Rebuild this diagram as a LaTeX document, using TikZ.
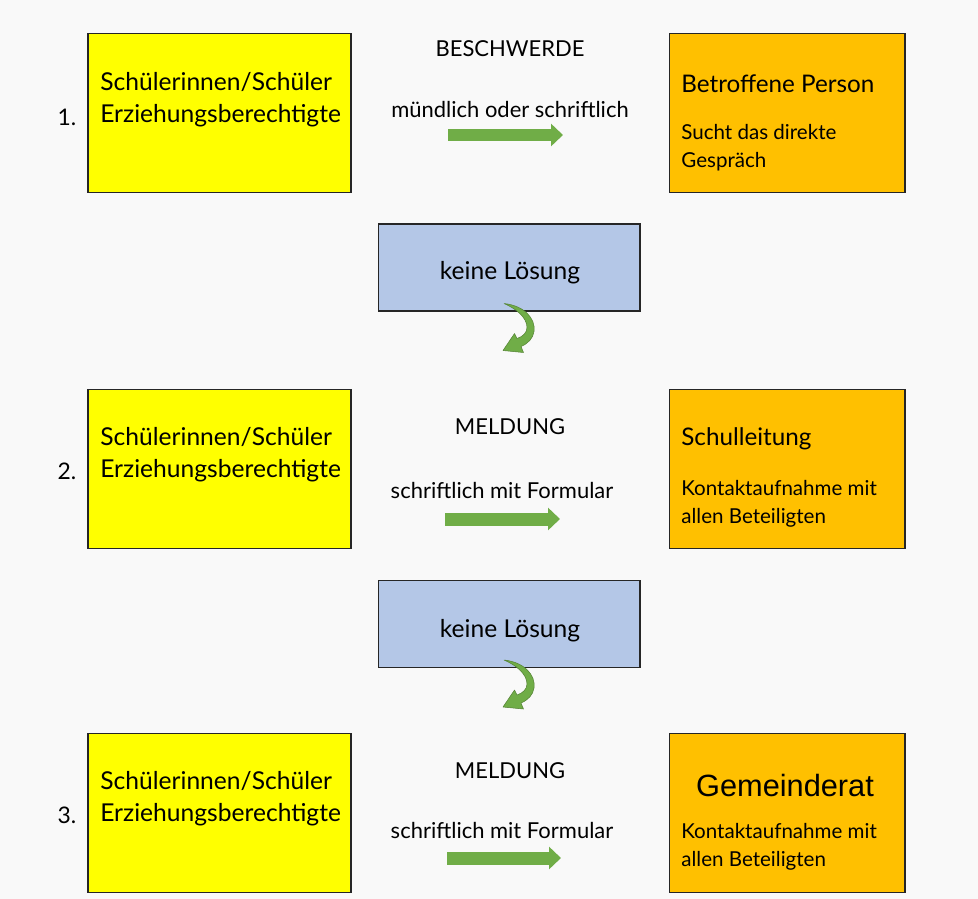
\documentclass[tikz,border=0pt]{standalone}
\usepackage{fontspec}
\setmainfont{Lato}
\newfontfamily\arialfont{Liberation Sans}
\usetikzlibrary{arrows.meta,positioning}
\definecolor{boxyellow}{RGB}{255,255,0}
\definecolor{boxorange}{RGB}{255,192,0}
\definecolor{boxblue}{RGB}{180,199,231}
\definecolor{arrowgreen}{RGB}{112,173,71}
\definecolor{paper}{RGB}{249,249,249}
\tikzset{>=stealth}

\begin{document}
\begin{tikzpicture}[x=0.02cm,y=-0.02cm,
  box/.style={draw=black!85,line width=0.6pt,minimum width=5.26cm,minimum height=3.18cm,inner sep=0pt},
  pupil/.style={box,fill=boxyellow},
  office/.style={box,fill=boxorange,minimum width=4.72cm},
  fail/.style={draw=black!85,line width=0.6pt,fill=boxblue,minimum width=5.24cm,minimum height=1.74cm},
  failtext/.style={inner sep=0pt,font=\fontsize{14}{16}\selectfont},
  flow/.style={arrowgreen,line width=0.26cm,-{Triangle[length=0.24cm,width=0.44cm]}},
  turn/.style={fill=arrowgreen,draw=arrowgreen!75!black,line width=0.3pt,line join=round},
  who/.style={anchor=west,align=left,inner sep=0pt,font=\fontsize{14}{18.2}\selectfont},
  head/.style={anchor=west,inner sep=0pt,font=\fontsize{13.8}{18}\selectfont},
  note/.style={anchor=west,align=left,inner sep=0pt,font=\fontsize{11.7}{16}\selectfont},
  kind/.style={inner sep=0pt,font=\fontsize{12.5}{14}\selectfont},
  nr/.style={inner sep=0pt,font=\fontsize{13}{15}\selectfont}
]
\fill[paper] (0,0) rectangle (978,899);

% rows
\node[pupil] (p1) at (219.5,113) {};
\node[pupil] (p2) at (219.5,469) {};
\node[pupil] (p3) at (219.5,813) {};
\node[office] (o1) at (787,113) {};
\node[office] (o2) at (787,469) {};
\node[office] (o3) at (787,813) {};

\node[nr] (n1) at (67,117) {1.};
\node[nr] (n2) at (67,471) {2.};
\node[nr] (n3) at (67,815) {3.};

\node[who] (w1) at (100,100) {Schülerinnen/Schüler\\Erziehungsberechtigte};
\node[who] (w2) at (100,455) {Schülerinnen/Schüler\\Erziehungsberechtigte};
\node[who] (w3) at (100,799) {Schülerinnen/Schüler\\Erziehungsberechtigte};

\node[head] (h1) at (681,84) {Betroffene Person};
\node[note] (s1) at (681,148) {Sucht das direkte\\Gespräch};
\node[head] (h2) at (681,439) {Schulleitung};
\node[note] (s2) at (681,504) {Kontaktaufnahme mit\\allen Beteiligten};
\node[inner sep=0pt,font=\arialfont\fontsize{17.5}{20}\selectfont] (h3) at (785,786) {Gemeinderat};
\node[note] (s3) at (681,847) {Kontaktaufnahme mit\\allen Beteiligten};

% middle column
\node[kind] (k1) at (510,49) {BESCHWERDE};
\node[kind] (m1) at (510,109) {mündlich oder schriftlich};
\node[kind] (k2) at (510,427) {MELDUNG};
\node[kind] (m2) at (502,490) {schriftlich mit Formular};
\node[kind] (k3) at (510,771) {MELDUNG};
\node[kind] (m3) at (502,830) {schriftlich mit Formular};

\coordinate (a1) at (448,135); \coordinate (b1) at (563,135);
\coordinate (a2) at (445,519); \coordinate (b2) at (560,519);
\coordinate (a3) at (447,858); \coordinate (b3) at (561,858);
\draw[flow] (a1) -- (b1);
\draw[flow] (a2) -- (b2);
\draw[flow] (a3) -- (b3);

\node[fail] (f1) at (509,267.5) {};
\node[failtext] (l1) at (510,273) {keine Lösung};
\node[fail] (f2) at (509,624) {};
\node[failtext] (l2) at (510,631) {keine Lösung};

% curved arrows below the blue boxes
\foreach \f in {f1,f2}{
  \begin{scope}[shift={(\f.south)}]
    \path[turn] (-5,-8) .. controls (15,-6) and (27,7) .. (25,20)
      .. controls (24,27) and (19,32) .. (12,35) -- (14.5,41) -- (-6,39)
      -- (5.5,22) -- (8,27) .. controls (14,25) and (18,21) .. (18,16)
      .. controls (18,6) and (7,-3) .. (-5,-8) -- cycle;
  \end{scope}
}
\end{tikzpicture}
\end{document}
